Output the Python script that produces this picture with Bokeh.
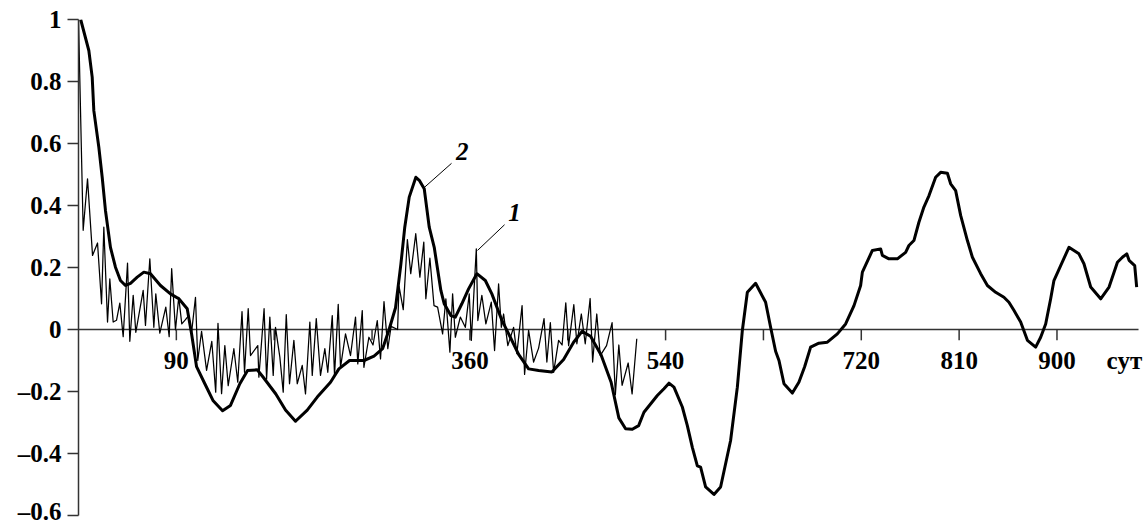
from bokeh.plotting import figure
from bokeh.models import Range1d, FixedTicker
from bokeh.core.properties import value
from bokeh.embed import file_html
from bokeh.resources import INLINE

# Curve 2: smoothed autocorrelation (lag in days)
lag_2 = [2.0, 9.5, 12.6, 14.1, 18.7, 21.8, 24.8, 29.4, 34.0, 38.6, 43.2, 47.8, 54.0,
         60.1, 66.2, 75.4, 84.6, 92.3, 100.0, 104.0, 108.6, 116.2, 123.9, 132.5,
         139.8, 148.4, 155.5, 164.4, 169.9, 181.5, 190.4, 199.6, 210.4, 219.6,
         231.8, 239.5, 249.3, 262.6, 271.8, 279.7, 285.7, 291.6, 296.5, 300.1,
         304.2, 310.3, 313.7, 318.0, 322.6, 327.2, 333.3, 336.4, 342.5, 346.6,
         352.6, 358.8, 366.4, 374.2, 380.2, 389.4, 397.2, 404.8, 414.0, 423.2,
         435.4, 446.2, 455.4, 463.2, 471.0, 480.7, 489.9, 497.0, 503.2, 509.4,
         515.2, 520.1, 532.4, 538.5, 543.1, 547.7, 555.4, 560.0, 564.6, 569.2,
         572.2, 576.8, 584.5, 590.6, 599.8, 606.0, 610.6, 615.2, 622.8, 632.0,
         636.6, 641.2, 644.3, 648.9, 656.6, 662.6, 667.9, 673.4, 681.0, 688.8,
         698.0, 705.6, 713.3, 719.4, 721.0, 730.2, 737.8, 739.4, 745.4, 753.2,
         760.8, 763.8, 768.4, 773.0, 777.6, 782.3, 788.4, 793.0, 799.2, 802.2,
         806.8, 811.4, 817.6, 822.2, 829.8, 836.0, 843.6, 851.2, 855.8, 860.5,
         866.6, 872.8, 880.4, 885.0, 889.6, 894.2, 897.2, 903.4, 911.0, 920.2,
         924.8, 931.0, 940.2, 947.9, 955.6, 960.2, 964.2, 966.3, 971.5, 973.3]
acf_2 = [1.0, 0.90, 0.814, 0.706, 0.588, 0.491, 0.384, 0.265, 0.201, 0.158, 0.142,
         0.149, 0.169, 0.185, 0.18, 0.142, 0.115, 0.099, 0.067, -0.014, -0.12,
         -0.175, -0.23, -0.262, -0.245, -0.175, -0.132, -0.13, -0.154, -0.208,
         -0.26, -0.296, -0.26, -0.218, -0.17, -0.127, -0.1, -0.1, -0.086, -0.062,
         0.0, 0.07, 0.21, 0.33, 0.427, 0.491, 0.48, 0.454, 0.33, 0.265, 0.126,
         0.083, 0.045, 0.04, 0.083, 0.131, 0.18, 0.158, 0.115, 0.03, -0.025,
         -0.08, -0.127, -0.132, -0.137, -0.097, -0.041, -0.006, -0.022, -0.082,
         -0.17, -0.285, -0.32, -0.322, -0.31, -0.267, -0.213, -0.191, -0.173,
         -0.186, -0.25, -0.31, -0.38, -0.44, -0.444, -0.508, -0.532, -0.508,
         -0.358, -0.186, -0.003, 0.12, 0.149, 0.088, 0.007, -0.07, -0.1, -0.175,
         -0.205, -0.17, -0.12, -0.057, -0.044, -0.041, -0.014, 0.018, 0.077,
         0.142, 0.185, 0.255, 0.26, 0.239, 0.228, 0.228, 0.249, 0.271, 0.287,
         0.346, 0.395, 0.432, 0.491, 0.507, 0.504, 0.47, 0.448, 0.368, 0.287,
         0.233, 0.18, 0.142, 0.12, 0.104, 0.088, 0.061, 0.024, -0.035, -0.057,
         -0.025, 0.018, 0.099, 0.158, 0.206, 0.265, 0.244, 0.212, 0.137, 0.099,
         0.137, 0.217, 0.233, 0.244, 0.223, 0.206, 0.137]

# Curve 1: raw daily autocorrelation (lag in days)
lag_1 = [0.0, 4.3, 8.3, 12.9, 17.5, 21.2, 23.3, 26.7, 28.8, 31.9, 35.0, 38.0, 41.1,
         45.1, 47.2, 50.3, 52.7, 59.5, 61.6, 65.6, 69.3, 71.1, 74.8, 80.3, 83.4,
         85.7, 89.2, 92.2, 95.0, 98.0, 101.4, 104.0, 107.6, 109.7, 113.2, 117.8,
         122.6, 126.2, 128.3, 131.6, 134.6, 137.7, 142.9, 146.5, 150.4, 152.7,
         156.1, 158.2, 164.9, 165.9, 170.7, 173.0, 176.0, 179.1, 181.2, 185.2,
         188.3, 191.1, 194.1, 198.1, 201.2, 205.8, 208.8, 212.8, 215.0, 218.7,
         222.6, 226.6, 229.3, 233.4, 235.5, 238.9, 241.0, 245.6, 250.2, 254.8,
         256.9, 261.0, 262.5, 267.1, 270.9, 274.8, 277.8, 281.0, 284.5, 287.5,
         293.5, 294.8, 298.7, 302.5, 305.6, 310.2, 314.0, 317.6, 319.5, 323.2,
         327.0, 330.3, 334.9, 337.9, 341.6, 344.1, 346.6, 351.2, 355.8, 359.4,
         361.3, 365.9, 367.3, 371.0, 374.7, 379.7, 382.7, 386.4, 388.9, 391.0,
         394.9, 400.2, 403.2, 408.0, 410.3, 414.0, 418.6, 423.2, 428.2, 430.8,
         434.0, 437.0, 441.6, 444.8, 448.2, 450.8, 455.6, 458.4, 462.5, 466.1,
         470.6, 472.9, 476.7, 479.9, 485.7, 490.8, 493.8, 497.0, 500.0, 505.6,
         509.2, 513.5]
acf_1 = [1.0, 0.32, 0.486, 0.239, 0.279, 0.083, 0.33, 0.024, 0.163, 0.024, 0.03,
         0.085, -0.023, 0.214, -0.038, 0.11, -0.009, 0.126, 0.013, 0.228, 0.007,
         0.115, -0.012, 0.072, -0.023, 0.196, -0.001, 0.104, 0.018, 0.03, 0.045,
         -0.01, 0.104, -0.1, -0.006, -0.132, -0.038, -0.202, 0.02, -0.207,
         -0.052, -0.181, -0.062, -0.17, 0.058, -0.138, 0.067, -0.084, -0.052,
         -0.154, 0.067, -0.16, 0.04, -0.148, 0.007, -0.089, -0.202, 0.048,
         -0.175, -0.035, -0.175, -0.116, -0.208, 0.024, -0.148, 0.035, -0.148,
         -0.062, -0.138, 0.045, -0.148, 0.081, -0.122, -0.014, -0.084, 0.04,
         -0.111, 0.061, -0.122, -0.025, -0.05, 0.029, -0.095, 0.09, -0.062, 0.01,
         0.0, 0.14, 0.064, 0.29, 0.18, 0.309, 0.169, 0.282, 0.099, 0.23, 0.077,
         0.072, -0.014, 0.099, -0.073, 0.115, -0.025, 0.04, 0.007, 0.115, -0.035,
         0.26, 0.029, 0.11, 0.018, 0.088, -0.068, 0.147, 0.007, 0.05, -0.052,
         0.007, -0.078, 0.077, -0.145, -0.003, -0.105, -0.06, 0.035, -0.105,
         0.022, -0.138, -0.035, -0.05, 0.086, -0.052, 0.08, -0.046, 0.05, -0.046,
         0.1, -0.105, 0.05, -0.084, -0.052, 0.022, -0.21, -0.05, -0.18, -0.108,
         -0.208, -0.03]

# Lag axis: extent, ticks and labels
lag_axis_end = 975
tick_days = [90, 180, 270, 360, 450, 540, 630, 720, 810, 900]
label_days = [90, 360, 540, 720, 810, 900]
label_text = ["90", "360", "540", "720", "810", "900"]
unit_day = 962
unit_text = "сут"

# Correlation axis ticks
y_ticks = [-0.6, -0.4, -0.2, 0, 0.2, 0.4, 0.6, 0.8, 1]
y_labels = ["–0.6", "–0.4", "–0.2", "0", "0.2", "0.4", "0.6", "0.8", "1"]

# Curve number callouts: label position and leader line ends
callout_text = ["2", "1"]
callout_x = [353.0, 401.0]
callout_y = [0.575, 0.378]
leader_x0 = [317.7, 367.0]
leader_y0 = [0.457, 0.255]
leader_x1 = [343.1, 391.9]
leader_y1 = [0.536, 0.338]

FONT = "Liberation Serif"
AXIS_COLOR = "#333333"

p = figure(width=1144, height=524, output_backend="svg", toolbar_location=None,
           x_range=Range1d(0, 980.5), y_range=Range1d(-0.6, 1.0),
           x_axis_location=None, min_border_left=78, min_border_right=0,
           min_border_top=19, min_border_bottom=9)
p.xgrid.visible = False
p.ygrid.visible = False
p.outline_line_color = None
p.background_fill_color = "white"
p.border_fill_color = "white"

yax = p.yaxis[0]
yax.ticker = FixedTicker(ticks=y_ticks)
yax.major_label_overrides = {t: s for t, s in zip(y_ticks, y_labels)}
yax.axis_line_color = AXIS_COLOR
yax.axis_line_width = 1.5
yax.major_tick_line_color = AXIS_COLOR
yax.major_tick_line_width = 1.5
yax.major_tick_out = 11
yax.major_tick_in = 0
yax.minor_tick_line_color = None
yax.major_label_standoff = 6
yax.major_label_text_font = FONT
yax.major_label_text_font_size = "25px"
yax.major_label_text_font_style = "bold"
yax.major_label_text_color = "black"

# zero line serving as the lag axis, with its ticks
p.segment(x0=[0], y0=[0], x1=[lag_axis_end], y1=[0], line_color=AXIS_COLOR, line_width=1.5)
p.segment(x0=tick_days, y0=[0] * len(tick_days), x1=tick_days,
          y1=[-0.035] * len(tick_days), line_color=AXIS_COLOR, line_width=1.5)

p.line(lag_1, acf_1, line_color="black", line_width=1.25, line_join="round")
p.line(lag_2, acf_2, line_color="black", line_width=3, line_join="round")

p.text(x=label_days + [unit_day], y=[-0.1] * (len(label_days) + 1),
       text=label_text + [unit_text], text_font=value(FONT), text_font_size="25px",
       text_font_style="bold", text_align="center", text_baseline="middle",
       text_color="black")

p.segment(x0=leader_x0, y0=leader_y0, x1=leader_x1, y1=leader_y1,
          line_color="black", line_width=1)
p.text(x=callout_x, y=callout_y, text=callout_text, text_font=value(FONT),
       text_font_size="25px", text_font_style="bold italic", text_align="center",
       text_baseline="middle", text_color="black")

open("out.html", "w").write(file_html(p, INLINE))
